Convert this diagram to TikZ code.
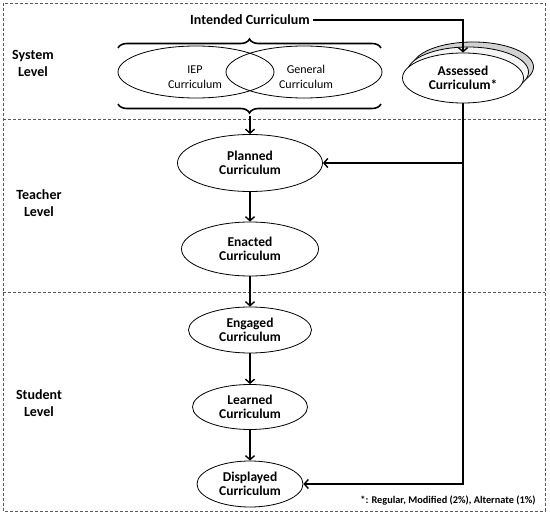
\documentclass[tikz,border=0pt]{standalone}
\usepackage{fontspec}
\setmainfont{Carlito}
\usetikzlibrary{arrows.meta,decorations.pathreplacing,shapes.geometric}

\tikzset{
	lvl/.style={dash pattern=on 3pt off 2pt,line width=0.9pt,draw=black!65},
	curr/.style={draw,ellipse,line width=0.8pt,fill=white,inner sep=0,align=center,font=\bfseries\fontsize{13.5}{14.5}\selectfont},
	venn/.style={draw,ellipse,line width=0.8pt,inner sep=0,minimum width=156pt,minimum height=52pt},
	venntext/.style={align=center,font=\fontsize{12}{14.5}\selectfont},
	flow/.style={line width=1.6pt,-{Straight Barb[length=4pt,width=9pt,line width=1.4pt]}},
	bigbrace/.style={line width=1.6pt,decorate,decoration={brace,amplitude=9pt}},
	lvltext/.style={align=center,font=\bfseries\fontsize{14}{17}\selectfont}
}

\begin{document}
\begin{tikzpicture}[x=1pt,y=-1pt]
	\useasboundingbox (0,0) rectangle (550,516);
	% levels
	\draw[lvl] (3,3) rectangle (545,511);
	\draw[lvl] (3,119) -- (545,119);
	\draw[lvl] (3,292) -- (545,292);
	\node[lvltext] (sys) at (33,63) {System\\Level};
	\node[lvltext] (tea) at (39,203) {Teacher\\Level};
	\node[lvltext] (stu) at (39,403) {Student\\Level};
	% intended curriculum
	\node[font=\bfseries\fontsize{14}{16}\selectfont] (int) at (250,20) {Intended Curriculum};
	\node[venn] (iep) at (196,72) {};
	\node[venn] (gen) at (304,72) {};
	\node[venntext] at (195,77) {IEP\\Curriculum};
	\node[venntext] at (306,77) {General\\Curriculum};
	\draw[bigbrace] (118,48) -- (381,48);
	\draw[bigbrace] (381,104) -- (118,104);
	\coordinate (tip) at (250,116);
	% assessed curriculum
	\node[curr,fill=gray!35,minimum width=121pt,minimum height=50pt] (as3) at (473,67) {};
	\node[curr,fill=gray!8,minimum width=121pt,minimum height=50pt] (as2) at (468,72) {};
	\node[curr,minimum width=121pt,minimum height=50pt] (as) at (463,78) {Assessed\\Curriculum*};
	% teacher and student level
	\node[curr,minimum width=145pt,minimum height=57pt] (pl) at (250,163) {Planned\\Curriculum};
	\node[curr,minimum width=137pt,minimum height=54pt] (en) at (250,249) {Enacted\\Curriculum};
	\node[curr,minimum width=123pt,minimum height=46pt] (eg) at (250,330) {Engaged\\Curriculum};
	\node[curr,minimum width=115pt,minimum height=45pt] (le) at (250,407) {Learned\\Curriculum};
	\node[curr,minimum width=106pt,minimum height=46pt] (di) at (250,484) {Displayed\\Curriculum};
	% arrows
	\draw[flow] (int.east) -| (as.north);
	\draw[flow] (tip) -- (pl);
	\draw[flow] (pl) -- (en);
	\draw[flow] (en) -- (eg);
	\draw[flow] (eg) -- (le);
	\draw[flow] (le) -- (di);
	\draw[flow] (as.south) |- (di.east);
	\draw[flow] (as.south |- pl.east) -- (pl.east);
	\node[anchor=south east,font=\bfseries\fontsize{10.3}{12}\selectfont] (note) at (539,509) {*: Regular, Modified (2\%), Alternate (1\%)};
\end{tikzpicture}
\end{document}
